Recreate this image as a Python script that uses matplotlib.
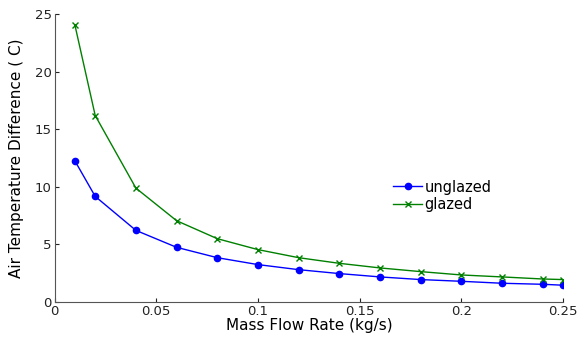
import matplotlib.pyplot as plt

plt.rcParams["font.family"] = ["DejaVu Sans"]

# Mass flow rate (kg/s) and temperature difference (C)
flow = [0.01, 0.02, 0.04, 0.06, 0.08, 0.10, 0.12, 0.14, 0.16, 0.18, 0.20, 0.22, 0.24, 0.25]
unglazed = [12.25, 9.16, 6.21, 4.74, 3.84, 3.24, 2.80, 2.46, 2.17, 1.94, 1.79, 1.62, 1.53, 1.45]
glazed = [24.05, 16.18, 9.88, 7.05, 5.49, 4.54, 3.84, 3.35, 2.95, 2.63, 2.34, 2.17, 1.99, 1.94]

fig = plt.figure(figsize=(5.8, 3.4), dpi=100)
ax = fig.add_axes([0.094, 0.112, 0.877, 0.847])

ax.plot(flow, unglazed, color="#0000ff", marker="o", markersize=4.5, linewidth=1, label="unglazed")
ax.plot(flow, glazed, color="#008000", marker="x", markersize=5, markeredgewidth=1, linewidth=1, label="glazed")

ax.set_xlim(0, 0.25)
ax.set_ylim(0, 25)
ax.set_xticks([0, 0.05, 0.1, 0.15, 0.2, 0.25])
ax.set_xticklabels(["0", "0.05", "0.1", "0.15", "0.2", "0.25"])
ax.set_yticks([0, 5, 10, 15, 20, 25])

ax.spines["top"].set_visible(False)
ax.spines["right"].set_visible(False)
for s in ["left", "bottom"]:
    ax.spines[s].set_color("#555555")
ax.tick_params(direction="in", length=3, labelsize=9.5, colors="#222222", pad=2)

ax.set_xlabel("Mass Flow Rate (kg/s)", fontsize=11, labelpad=0)
ax.set_ylabel("Air Temperature Difference ( C)", fontsize=11, labelpad=8)

ax.legend(loc="upper left", bbox_to_anchor=(0.666, 0.425), frameon=False, fontsize=10.5,
          handlelength=2.0, handletextpad=0.15, labelspacing=0.15, borderpad=0,
          borderaxespad=0)

fig.savefig("out.png", dpi=100)
